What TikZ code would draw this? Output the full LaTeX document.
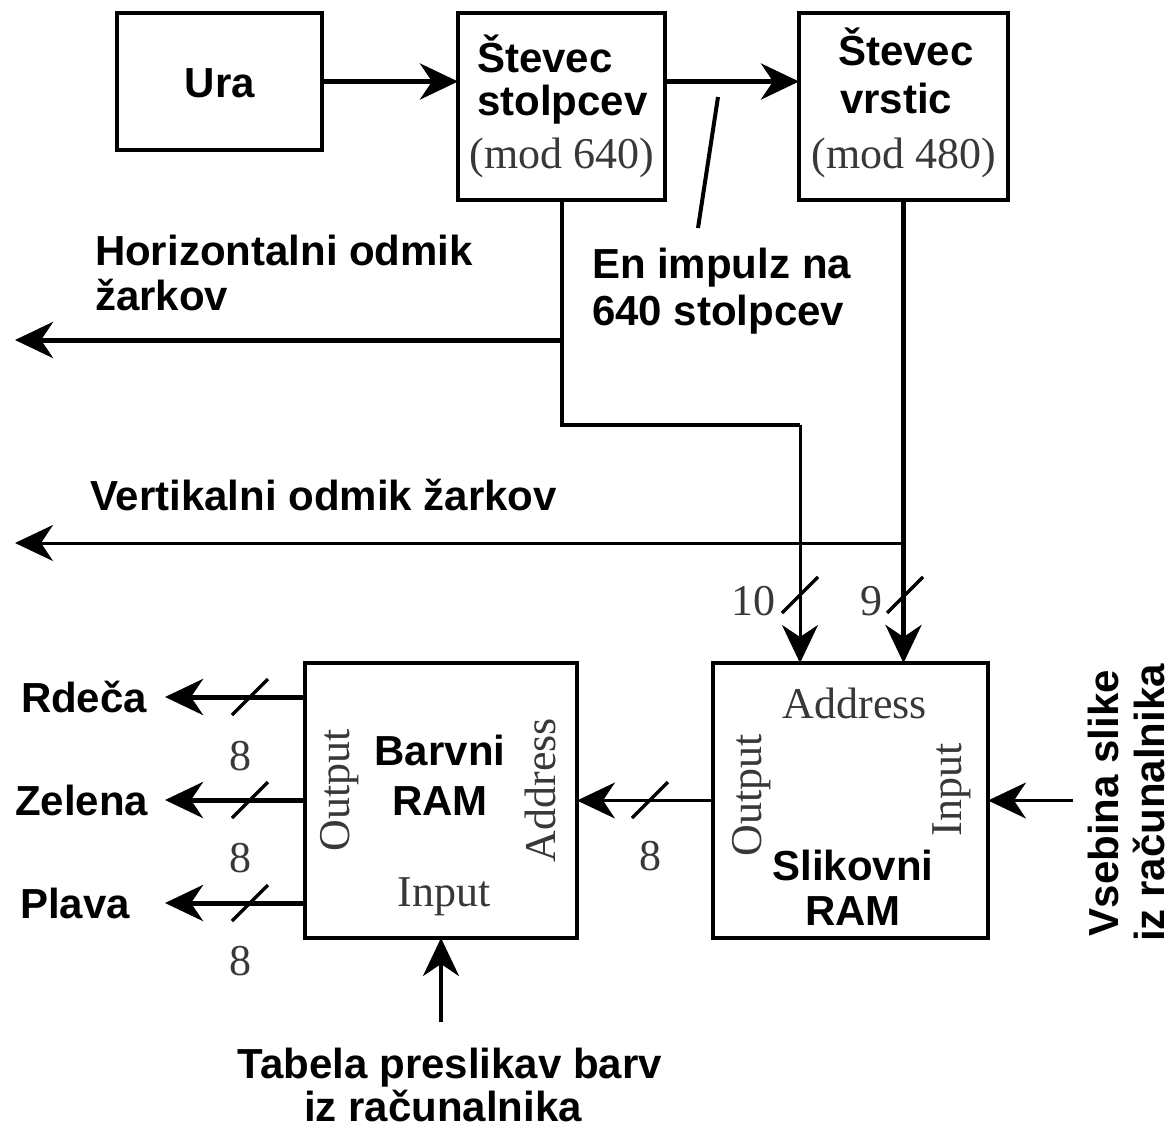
\documentclass[tikz,border=0pt]{standalone}
\usepackage{fontspec}
\setmainfont{Liberation Sans}
\newfontfamily\tmsfont{Liberation Serif}
\usetikzlibrary{arrows.meta,calc}
\tikzset{
  box/.style={draw, line width=4pt, inner sep=0pt, outer sep=0pt},
  lb/.style={font=\fontsize{42}{46}\selectfont\bfseries, inner sep=0pt, outer sep=0pt},
  ser/.style={font=\fontsize{44}{48}\selectfont\tmsfont, text=black!78, inner sep=0pt, outer sep=0pt},
  arr/.style={-{Stealth[length=38pt,width=36pt,inset=12pt]}},
  wthick/.style={line width=5pt},
  wmid/.style={line width=4pt},
  wthin/.style={line width=3pt},
  busmark/.style={line width=3.5pt},
}
\begin{document}
\begin{tikzpicture}[x=1pt,y=-1pt]
\useasboundingbox (0,0) rectangle (1173,1130);
% boxes
\node[box, minimum width=205pt, minimum height=137pt] (ura) at (219.5,81.5) {};
\node[box, minimum width=207pt, minimum height=187pt] (stolpcev) at (561.5,106.5) {};
\node[box, minimum width=209pt, minimum height=187pt] (vrstic) at (903.5,106.5) {};
\node[box, minimum width=272pt, minimum height=275pt] (barvni) at (441,800.5) {};
\node[box, minimum width=275pt, minimum height=275pt] (slikovni) at (850.5,800.5) {};
% box texts
\node[lb, anchor=base] (tura) at (220,97) {Ura};
\node[lb, anchor=base west] (ts1) at (477,72) {Števec};
\node[lb, anchor=base west] (ts2) at (477,115) {stolpcev};
\node[ser, anchor=base] (ts3) at (562,168) {(mod 640)};
\node[lb, anchor=base west] (tv1) at (838,65) {Števec};
\node[lb, anchor=base west] (tv2) at (840,113) {vrstic};
\node[ser, anchor=base] (tv3) at (904,168) {(mod 480)};
\node[lb, anchor=base] (tb1) at (440,765) {Barvni};
\node[lb, anchor=base] (tb2) at (440,815) {RAM};
\node[ser, anchor=base] (tb3) at (444,906) {Input};
\node[ser, rotate=90] (tb4) at (340,790) {Output};
\node[ser, rotate=90] (tb5) at (540,790) {Address};
\node[ser, anchor=base] (tsl1) at (855,718) {Address};
\node[ser, rotate=90] (tsl2) at (752,795) {Output};
\node[ser, rotate=90] (tsl3) at (952,790) {Input};
\node[lb, anchor=base] (tsl4) at (853,880) {Slikovni};
\node[lb, anchor=base] (tsl5) at (853,925) {RAM};
% free labels
\node[lb, anchor=base west] (hz1) at (95,265) {Horizontalni odmik};
\node[lb, anchor=base west] (hz2) at (95,310) {žarkov};
\node[lb, anchor=base west] (vt) at (90,510) {Vertikalni odmik žarkov};
\node[lb, anchor=base west] (imp1) at (592,278) {En impulz na};
\node[lb, anchor=base west] (imp2) at (592,325) {640 stolpcev};
\node[ser, anchor=base east] (n10) at (775,615) {10};
\node[ser, anchor=base east] (n9) at (882,615) {9};
\node[ser, anchor=base] (n8a) at (240,770) {8};
\node[ser, anchor=base] (n8b) at (240,872) {8};
\node[ser, anchor=base] (n8c) at (240,975) {8};
\node[ser, anchor=base] (n8d) at (650,870) {8};
\node[lb, anchor=base west] (rd) at (21,712) {Rdeča};
\node[lb, anchor=base west] (ze) at (15,815) {Zelena};
\node[lb, anchor=base west] (pl) at (20,918) {Plava};
\node[lb, anchor=base] (tab1) at (450,1078) {Tabela preslikav barv};
\node[lb, anchor=base] (tab2) at (443,1121) {iz računalnika};
\node[lb, rotate=90, align=center] (vs) at (1126,803) {Vsebina slike\\iz računalnika};
% named free ends
\coordinate (hout) at (15,340);
\coordinate (vout) at (15,543);
\coordinate (rout) at (165,697);
\coordinate (zout) at (165,800);
\coordinate (pout) at (165,903);
\coordinate (tin) at (441,1022);
\coordinate (vin) at (1073,800.5);
\coordinate (p1) at (718,97);
\coordinate (p2) at (698,228);
\coordinate (jog) at (563,425);
\coordinate (sin1) at ([xshift=87pt]slikovni.north west);
% connectors
\draw[wthick, arr] (ura.east) -- (ura.east -| stolpcev.west);
\draw[wthick, arr] (stolpcev.east |- ura.east) -- (vrstic.west |- ura.east);
\draw[wmid] (p1) -- (p2);
\draw[wmid] (stolpcev.south) -- (stolpcev.south |- jog) -- (jog -| sin1);
\draw[wthin, arr] (jog -| sin1) -- (sin1);
\draw[wthick, arr] (stolpcev.south |- hout) -- (hout);
\draw[wthick, arr] (vrstic.south) -- (vrstic.south |- slikovni.north);
\draw[wthin, arr] (vrstic.south |- vout) -- (vout);
\draw[wthin, arr] (slikovni.west) -- (barvni.east);
\draw[wthick, arr] (barvni.west |- rout) -- (rout);
\draw[wthick, arr] (barvni.west |- zout) -- (zout);
\draw[wthick, arr] (barvni.west |- pout) -- (pout);
\draw[wmid, arr] (tin) -- (barvni.south);
\draw[wthin, arr] (vin) -- (slikovni.east);
% bus marks
\foreach \c in {(800,595),(905,595),(250,697),(250,800),(250,903),(650,800)}{
  \draw[busmark] \c ++(-18,18) -- ++(36,-36);
}
\end{tikzpicture}
\end{document}
